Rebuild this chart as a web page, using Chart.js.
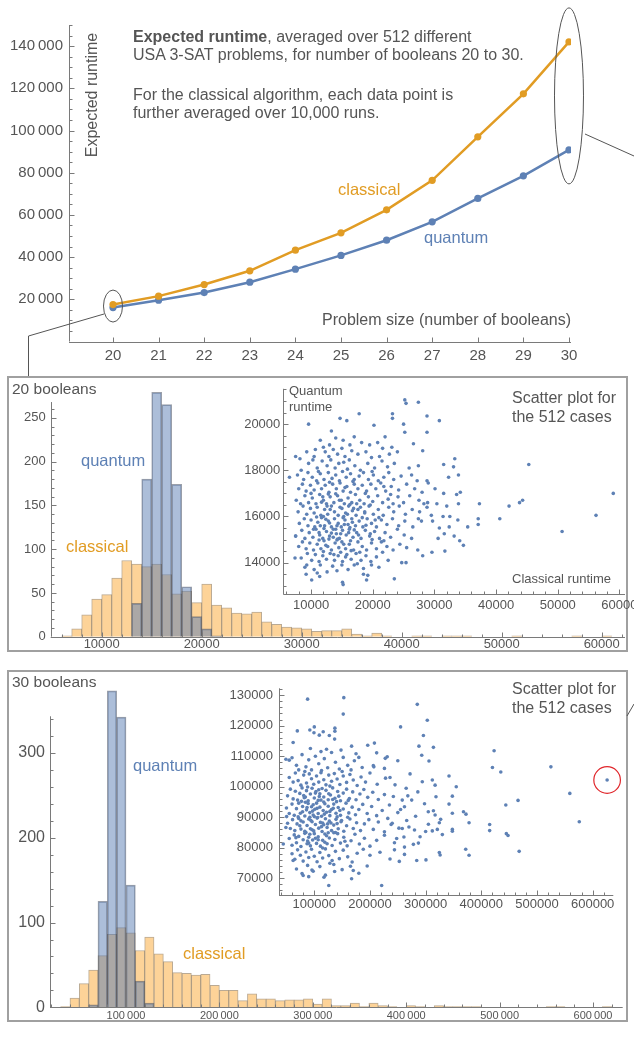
<!DOCTYPE html>
<html>
<head>
<meta charset="utf-8">
<title>Expected runtime</title>
<script src="https://cdn.jsdelivr.net/npm/chart.js@4.4.1/dist/chart.umd.min.js"></script>
<style>
  html, body { margin: 0; padding: 0; background: #fff; }
  body { position: relative; width: 634px; height: 1041px; overflow: hidden;
         font-family: "Liberation Sans", Arial, sans-serif; color: #555; }
  canvas, .txt, .box, svg { position: absolute; }
  .txt { white-space: nowrap; }
  .box { border: 2px solid #a0a0a0; box-sizing: border-box; }
  .blue { color: #5e81b5; }
  .orange { color: #e19c24; }
</style>
</head>
<body>
<div class="box" style="left:7px;top:376px;width:621px;height:276px"></div>
<div class="box" style="left:7px;top:670px;width:621px;height:352px"></div>

<canvas id="runtimeChart" width="634" height="380" style="left:0;top:0"></canvas>
<canvas id="hist20" width="617" height="278" style="left:9px;top:377px"></canvas>
<canvas id="scatter20" width="413" height="240" style="left:232px;top:378px"></canvas>
<canvas id="hist30" width="617" height="350" style="left:9px;top:672px"></canvas>
<canvas id="scatter30" width="410" height="245" style="left:216px;top:672px"></canvas>

<!-- top chart texts -->
<div class="txt" style="left:133px;top:28px;font-size:16px;line-height:18px"><b>Expected runtime</b>, averaged over 512 different<br>USA 3-SAT problems, for number of booleans 20 to 30.</div>
<div class="txt" style="left:133px;top:86px;font-size:16px;line-height:18px">For the classical algorithm, each data point is<br>further averaged over 10,000 runs.</div>
<div class="txt" style="left:22px;top:86px;width:140px;height:18px;line-height:18px;font-size:16px;text-align:center;transform:rotate(-90deg)">Expected runtime</div>
<div class="txt orange" style="left:338px;top:180px;font-size:16.5px;line-height:19px">classical</div>
<div class="txt blue" style="left:424px;top:228px;font-size:16.5px;line-height:19px">quantum</div>
<div class="txt" style="left:322px;top:311px;font-size:16px;line-height:18px">Problem size (number of booleans)</div>

<!-- panel 20 texts -->
<div class="txt" style="left:12px;top:380px;font-size:15.5px;line-height:18px">20 booleans</div>
<div class="txt blue" style="left:81px;top:451px;font-size:16.5px;line-height:19px">quantum</div>
<div class="txt orange" style="left:66px;top:537px;font-size:16.5px;line-height:19px">classical</div>
<div class="txt" style="left:289px;top:383px;font-size:13px;line-height:15.7px">Quantum<br>runtime</div>
<div class="txt" style="left:512px;top:388px;font-size:16px;line-height:19px">Scatter plot for<br>the 512 cases</div>
<div class="txt" style="left:512px;top:571px;font-size:13px;line-height:15px">Classical runtime</div>

<!-- panel 30 texts -->
<div class="txt" style="left:12px;top:673px;font-size:15.5px;line-height:18px">30 booleans</div>
<div class="txt blue" style="left:133px;top:756px;font-size:16.5px;line-height:19px">quantum</div>
<div class="txt orange" style="left:183px;top:944px;font-size:16.5px;line-height:19px">classical</div>
<div class="txt" style="left:512px;top:680px;font-size:16px;line-height:18.7px">Scatter plot for<br>the 512 cases</div>

<svg width="634" height="1041" style="left:0;top:0" stroke="#555" stroke-width="1" fill="none">
  <polyline points="104,314 28.5,336 28.5,376"/>
  <line x1="585" y1="134" x2="634" y2="156"/>
  <line x1="627" y1="716" x2="634" y2="704"/>
</svg>

<script>
// ---- line chart: averaged runtimes ----
const problemSizes = [20, 21, 22, 23, 24, 25, 26, 27, 28, 29, 30];
const classicalRuntime = [17500, 21500, 27000, 33500, 43300, 51500, 62400, 76400, 97000, 117400, 142000];
const quantumRuntime = [16100, 19600, 23200, 28100, 34300, 40800, 48000, 56700, 67800, 78500, 90800];

// ---- histograms: counts per bin, first bin starts at *Start ----
const hist20BinWidth = 1000;
const hist20ClassicalStart = 6000;
const hist20Classical = [1, 9, 25, 43, 48, 67, 87, 83, 80, 83, 71, 49, 52, 39, 60, 36, 33, 27, 26, 28,
  17, 14, 11, 10, 9, 6, 7, 7, 9, 3, 1, 4, 1, 0, 0, 1, 1, 0, 1, 1, 1, 0, 0, 0, 0, 1, 0, 0, 0, 0, 0, 1, 0, 0, 1];
const hist20QuantumStart = 13000;
const hist20Quantum = [38, 180, 279, 265, 174, 57, 23, 9, 1];

const hist30BinWidth = 10000;
const hist30ClassicalStart = 30000;
const hist30Classical = [1, 11, 28, 44, 61, 86, 94, 88, 67, 83, 63, 54, 41, 40, 38, 39, 26, 20, 20, 8,
  16, 10, 10, 8, 9, 9, 10, 4, 10, 2, 2, 5, 1, 5, 2, 1, 0, 2, 1, 0, 2, 1, 1, 1, 1, 0, 0, 0, 0, 0, 0, 0, 1, 1, 0, 0, 0, 0, 1];
const hist30QuantumStart = 60000;
const hist30Quantum = [3, 125, 373, 342, 144, 31, 5];

// ---- scatter: [classical, quantum] runtimes in thousands ----
const scatter20 = [
  [12.0,19.0],[13.3,19.7],[14.0,19.4],[15.2,19.3],[16.3,19.1],[17.0,19.45],[18.2,19.2],[19.5,19.1],[20.8,19.2],[22.0,19.45],
  [23.1,19.0],[13.0,19.1],[11.5,19.3],[9.3,18.8],[10.7,18.9],
  [10.5,18.6],[12.3,18.8],[12.9,18.6],[13.6,18.9],[14.3,18.7],[15.0,18.95],[15.5,18.6],[16.6,18.85],[17.6,18.7],[18.9,18.8],
  [19.8,18.55],[21.1,18.6],[21.6,18.95],[22.7,18.7],[8.2,18.5],[24.0,18.8],
  [9.6,18.3],[11.0,18.1],[11.8,18.4],[12.6,18.2],[13.2,18.45],[13.9,18.1],[14.5,18.3],[15.3,18.35],[15.9,18.05],[16.2,18.45],
  [17.1,18.2],[18.0,18.0],[19.2,18.3],[20.3,18.1],[21.5,18.4],[22.4,18.15],[23.5,18.3],[25.9,18.1],[8.4,18.0],[10.3,18.45],
  [7.8,17.8],[8.8,17.6],[9.5,17.9],[10.2,17.7],[10.9,17.55],[11.5,17.85],[12.1,17.6],[12.8,17.9],[13.4,17.65],[14.0,17.8],
  [14.6,17.55],[15.1,17.95],[15.7,17.7],[16.4,17.85],[17.0,17.6],[17.8,17.75],[18.5,17.9],[19.3,17.6],[20.1,17.8],[20.9,17.55],
  [21.8,17.7],[22.6,17.9],[23.4,17.6],[24.6,17.75],[26.3,17.8],[27.2,17.55],[11.2,17.95],[16.8,17.52],[19.9,17.95],
  [8.0,17.2],[8.6,17.4],[9.2,17.1],[9.9,17.35],[10.5,17.15],[11.1,17.45],[11.7,17.2],[12.3,17.35],[12.9,17.05],[13.5,17.4],
  [14.1,17.2],[14.7,17.45],[15.2,17.1],[15.8,17.3],[16.4,17.05],[17.0,17.4],[17.6,17.2],[18.3,17.35],[19.0,17.1],[19.7,17.4],
  [20.5,17.2],[21.3,17.45],[22.1,17.1],[23.0,17.3],[24.2,17.15],[25.5,17.4],[26.8,17.2],[28.0,17.05],[29.0,17.45],[13.0,17.48],
  [15.5,17.25],[18.8,17.0],[21.8,17.3],[10.0,17.0],
  [7.6,16.7],[8.3,16.55],[9.0,16.9],[9.6,16.6],[10.2,16.8],[10.8,16.55],[11.4,16.95],[12.0,16.7],[12.5,16.55],[13.1,16.85],
  [13.7,16.6],[14.3,16.9],[14.9,16.7],[15.4,16.55],[16.0,16.8],[16.6,16.6],[17.2,16.95],[17.9,16.7],[18.6,16.55],[19.3,16.85],
  [20.0,16.65],[20.8,16.9],[21.6,16.6],[22.5,16.75],[23.3,16.55],[24.1,16.85],[25.0,16.6],[26.0,16.9],[27.5,16.7],[28.3,16.55],
  [11.7,16.62],[14.0,16.98],[16.3,16.52],[19.6,16.5],[22.9,16.95],[12.8,16.97],
  [7.9,16.2],[8.7,16.45],[9.3,16.1],[9.9,16.35],[10.5,16.15],[11.0,16.4],[11.6,16.05],[12.2,16.3],[12.7,16.1],[13.3,16.45],
  [13.8,16.2],[14.4,16.05],[15.0,16.35],[15.6,16.15],[16.1,16.45],[16.7,16.25],[17.3,16.05],[18.0,16.4],[18.7,16.2],[19.4,16.45],
  [20.1,16.1],[20.9,16.3],[21.7,16.05],[22.6,16.4],[23.4,16.2],[24.3,16.45],[25.3,16.1],[26.4,16.3],[27.6,16.2],[28.8,16.4],
  [29.5,16.05],[14.7,16.4],[17.6,16.3],[12.0,16.0],[15.3,16.0],
  [8.1,15.7],[8.9,15.9],[9.5,15.6],[10.0,15.85],[10.6,15.55],[11.1,15.75],[11.7,15.95],[12.2,15.6],[12.8,15.8],[13.3,15.55],
  [13.8,15.9],[14.4,15.7],[14.9,15.55],[15.5,15.85],[16.0,15.65],[16.6,15.9],[17.2,15.6],[17.8,15.8],[18.4,15.55],[19.1,15.9],
  [19.8,15.7],[20.6,15.55],[21.4,15.85],[22.3,15.65],[23.2,15.9],[24.2,15.6],[25.2,15.8],[26.5,15.55],[27.4,15.9],[10.9,15.98],
  [13.0,15.72],[15.2,15.95],[16.3,15.52],[18.9,15.62],[21.0,15.95],[12.4,15.88],
  [7.5,15.15],[8.5,15.4],[9.0,15.05],[9.7,15.3],[10.3,15.1],[10.8,15.45],[11.4,15.2],[11.9,15.05],[12.5,15.35],[13.0,15.15],
  [13.6,15.45],[14.1,15.25],[14.6,15.05],[15.1,15.4],[15.7,15.2],[16.2,15.45],[16.8,15.1],[17.4,15.3],[18.1,15.05],[18.8,15.4],
  [19.5,15.15],[20.3,15.35],[21.1,15.05],[22.0,15.3],[22.9,15.1],[24.0,15.45],[25.1,15.2],[26.3,15.05],[12.1,15.48],[14.3,15.02],
  [17.0,15.42],[19.9,15.0],[13.3,15.28],
  [8.0,14.7],[8.6,14.9],[9.2,14.6],[9.8,14.85],[10.4,14.55],[11.0,14.8],[11.6,14.6],[12.1,14.95],[12.7,14.7],[13.3,14.55],
  [13.9,14.85],[14.5,14.65],[15.0,14.9],[15.6,14.6],[16.2,14.8],[16.9,14.55],[17.6,14.9],[18.3,14.7],[19.0,14.55],[19.8,14.85],
  [20.6,14.6],[21.4,14.9],[22.3,14.7],[23.3,14.55],[24.4,14.8],[11.3,14.98],[14.2,14.98],[16.5,14.52],
  [8.4,14.2],[9.4,14.4],[10.1,14.1],[10.7,14.35],[11.3,14.05],[11.9,14.3],[12.5,14.15],[13.1,14.4],[13.8,14.1],[14.4,14.3],
  [15.1,14.05],[15.8,14.35],[16.5,14.15],[17.3,14.4],[18.1,14.1],[18.9,14.3],[19.7,14.05],[20.6,14.25],[21.6,14.45],[22.5,14.1],
  [12.0,14.48],[14.8,14.45],
  [9.0,13.8],[10.5,13.7],[11.5,13.9],[12.6,13.6],[13.5,13.85],[14.2,13.65],[15.0,13.9],[16.0,13.7],[17.5,13.95],[18.5,13.75],
  [19.8,13.9],[21.0,13.8],[11.0,13.55],
  [11.3,15.3],[12.4,14.75],[13.6,15.1],[14.2,15.6],[15.3,14.8],[16.1,15.3],[16.7,15.75],[17.7,15.2],[13.1,16.3],[14.6,16.7],
  [15.9,16.1],[17.4,16.55],[12.6,16.45],[11.5,15.6],[14.0,15.45],[15.4,15.65],[16.9,16.35],[18.3,15.95],[13.7,14.35],[15.6,14.25],
  [12.9,15.02],[14.8,15.25],[16.4,14.95],[17.9,14.45],[18.7,16.15],[19.6,15.25],[20.4,15.85],[21.8,14.95],[10.4,15.45],[11.9,16.85],
  [6.5,17.7],[7.5,18.6],[9.6,20.0],[14.7,20.25],[15.8,20.15],[17.8,20.45],[20.2,19.95],[23.2,20.45],[23.2,20.25],[25.2,21.05],
  [25.4,20.9],[27.4,20.95],[25.0,20.0],[25.2,19.65],[28.8,20.35],[28.8,19.65],[30.8,20.15],[26.6,19.15],[28.1,18.85],[33.3,18.5],
  [31.5,18.25],[33.1,18.15],[27.4,18.2],[28.8,17.55],[32.3,17.7],[33.9,17.8],[34.2,17.05],[31.5,17.0],[33.6,16.95],[30.1,17.2],
  [30.4,16.55],[28.9,16.6],[32.0,16.45],[33.9,16.55],[37.3,16.55],[37.1,15.9],[37.1,15.65],[40.6,15.9],[42.1,16.45],[43.8,16.6],
  [44.3,16.7],[45.3,18.25],[56.2,16.05],[50.7,15.35],[59.0,17.0],[35.4,15.55],[34.7,14.75],[34.1,14.95],[33.2,15.15],[31.7,14.5],
  [29.6,14.45],[28.1,14.3],[27.3,14.55],[25.4,14.0],[24.7,14.0],[23.5,13.3],[25.5,14.65],[29.7,15.8],[31.4,16.0],[32.5,16.0],
  [33.8,15.85],[30.8,15.5],[32.4,15.55],[30.6,15.05],[31.6,15.25],[27.9,15.8],[7.4,14.2],[7.5,15.15],[9.3,13.9],[9.2,13.5],
  [10.1,13.25],[11.4,13.4],[15.1,13.15],[15.2,13.05],[18.5,13.5],[19.0,13.25],[19.2,13.45],[17.0,13.9]
];

const scatter30 = [
  [60,109.5],[68,107],[72,105.5],[78,110.5],[85,106.5],[90,108.8],[95,105.5],[102,110],[108,107.5],[113,105.3],
  [118,109.2],[124,106.2],[131,111.2],[138,108],[145,105.8],[152,109.6],[160,107],[166,105.5],[172,108.5],[180,109.6],
  [186,106.3],[175,110.8],[148,112],[122,112.3],[93,112.5],[112,111.5],
  [55,103],[62,101.5],[66,104.5],[71,102],[76,100.5],[81,103.8],[86,101.2],[91,104.2],[95,102.6],[99,100.8],
  [104,103.5],[108,101.5],[112,104.6],[117,102.3],[121,100.6],[126,103.8],[131,101.8],[136,104.3],[141,102.5],[146,100.7],
  [152,103.5],[158,101.4],[164,104],[170,102.2],[177,100.4],[184,103.2],[192,101.5],[200,104.5],[213,100.8],[228,102.8],
  [245,100.6],[83,105],[128,100.2],[150,105],
  [52,97],[57,99.2],[62,96],[66,98.5],[70,95.6],[74,97.8],[78,99.6],[82,96.4],[86,98.7],[89,95.4],
  [93,97.6],[96,99.5],[100,96.3],[103,98.4],[107,95.5],[110,97.7],[114,99.4],[117,96.6],[121,98.8],[125,95.7],
  [129,97.3],[133,99.6],[137,96.2],[142,98.4],[147,95.4],[152,97.9],[158,99.2],[163,96.1],[169,98.3],[175,95.7],
  [182,97.6],[189,99.1],[196,96.5],[205,98.2],[215,95.8],[226,97.4],[242,96.8],[258,95.6],[268,97],[88,99.9],
  [108,99],[140,95.1],[77,95.2],
  [50,93],[55,91.2],[60,94.3],[64,90.6],[68,92.8],[72,94.6],[75,91.3],[79,93.5],[83,90.4],[86,92.4],
  [89,94.5],[92,91.5],[95,93.4],[98,90.7],[101,92.6],[104,94.6],[107,91.2],[110,93.3],[113,90.3],[116,92.2],
  [119,94.4],[122,91.6],[125,93.6],[128,90.5],[131,92.5],[135,94.3],[139,91.3],[143,93.2],[147,90.6],[152,92.7],
  [157,94.6],[162,91.4],[168,93.3],[174,90.8],[180,92.5],[187,94.2],[195,91.2],[203,93.5],[212,90.5],[222,92.2],
  [235,94],[250,91.5],[262,93.4],[84,94.9],[117,95],[141,90.1],[97,92],
  [52,88],[57,86.3],[61,89.2],[65,85.6],[69,87.8],[72,89.6],[76,86.1],[80,88.4],[83,85.4],[87,87.3],
  [90,89.4],[93,86.2],[96,88.5],[99,85.5],[102,87.6],[105,89.7],[108,86.4],[111,88.3],[114,85.3],[117,87.5],
  [120,89.5],[123,86.6],[127,88.7],[131,85.6],[135,87.4],[139,89.3],[143,86.2],[148,88.5],[153,85.4],[158,87.2],
  [164,89.4],[170,86.3],[176,88.2],[183,85.6],[190,87.8],[198,89.2],[206,86],[215,88.4],[226,85.2],[238,87.6],
  [252,86.4],[266,88.9],[280,85.8],[92,90],[125,84.9],[160,90],
  [55,83],[60,80.8],[64,84.2],[68,81.6],[72,83.7],[76,80.4],[80,82.6],[83,84.7],[87,81.3],[90,83.4],
  [93,80.6],[97,82.5],[100,84.6],[104,81.4],[107,83.6],[111,80.5],[115,82.4],[119,84.5],[123,81.3],[127,83.2],
  [132,80.7],[137,82.7],[142,84.6],[147,81.5],[153,83.4],[159,80.6],[166,82.3],[173,84.4],[181,81.2],[190,83.1],
  [200,80.5],[212,82.4],[226,84.1],[244,81.6],[261,83.5],[115,79.9],[85,85],[135,84.9],
  [60,78],[65,76.2],[70,79.3],[75,77.5],[80,75.6],[85,78.6],[90,76.8],[95,79.5],[100,77.2],[105,75.4],
  [110,78.4],[115,76.6],[120,79.6],[126,77.4],[132,75.8],[138,78.8],[145,76.4],[152,79.2],[160,77],[168,75.3],
  [177,78.2],[188,79.5],[200,77.5],[218,78.5],[236,76.3],[128,74.9],
  [68,73],[78,71.5],[88,74.2],[98,72.3],[110,73.8],[120,71],[135,74.5],[150,72.8],[165,73.9],[180,71.6],
  [195,74],[90,70.5],
  [74,87.2],[79,91.8],[84,96.6],[88,82.2],[94,88.9],[98,94.1],[102,83.1],[106,89.9],[109,96.8],[113,86.9],
  [118,91],[122,83.9],[126,97.7],[130,88.1],[134,92.9],[138,85],[144,96.9],[149,88.9],[155,82.1],[161,95.5],
  [71,90.1],[67,83.3],[81,97.1],[92,84.4],[105,92.9],[119,81.8],[133,95.8],[146,92.2],[102,97.9],[87,93.2],
  [96,85.9],[112,95.6],[128,91.9],[76,88.8],[124,87.8],[141,87.9],[90,81.5],[100,90.2],[115,88.1],[107,82.6],
  [240,88],[248,83],[255,92.5],[262,80.2],[270,86.8],[275,95.6],[282,90.3],[290,83.6],[298,94.4],[265,99.5],
  [232,89.6],[244,79.3],[278,81.1],[258,86.3],[286,98.3],[226,106],[236,103],[250,108.5],[272,104.2],[262,77.8],
  [88,128.7],[153,129.2],[152,123.8],[285,127],[303,121.8],[255,119.6],[296,116.8],[69.5,118.3],[62,114.5],[92,118.6],
  [100,119.6],[99.4,117.7],[109,116.9],[116,118],[127,116.8],[137,119.2],[137,118.2],[136.5,115.6],[167,113.3],[196,113.6],
  [208,114.3],[288,113.3],[314,112.9],[423,111.8],[212,111.1],[231,109.8],[293,110.3],[306,108.4],[227.5,109.3],[206,106.9],
  [207,106.5],[420,106.3],[435,104.8],[525,106.5],[559,97.8],[576,88.5],[466,95.5],[444,94],[468,78.8],[445,84.6],
  [448,84],[415,87.6],[415,85.6],[342,103.5],[355,100],[348,96.9],[342,94.3],[348,91.3],[368,91.8],[372.5,91],
  [378,88.2],[348,86],[348,85.4],[372,79.5],[378,77.5],[324.6,78.4],[326,77.6],[321,86],[330,84.3],[324.6,88.2],
  [327,89.3],[317,90.7],[314,92.1],[318.6,96.7],[312,102.2],[294,101.6],[317,100.5],[304.8,91.8],[305,87.7],[312,85.5],
  [300,85.3],[287,81.5],[284,75.8],[300.6,76],[252.7,75.5],[221,67.6],[126,67.6],[167,69.8],[170,72.5],[117.4,70.3],
  [136.5,72.2],[95.8,72.7],[80,70.9],[62,75.8],[44.3,81.2],[49,86.6],[50.3,90.2],[49,109],[55,108.7]
];
// the case circled in red
const highlightCase30 = [626, 102.2];

const BLUE = '#5e81b5';
const ORANGE = '#e19c24';
const AXIS = '#7a7a7a';

Chart.defaults.font.family = '"Liberation Sans", Arial, sans-serif';
Chart.defaults.color = '#555';
Chart.defaults.animation = false;
Chart.defaults.plugins.legend.display = false;
Chart.defaults.plugins.tooltip.enabled = false;

const withSpaces = v => String(v).replace(/\B(?=(\d{3})+(?!\d))/g, '\u2009');
const plain = v => String(v);

function tickValues(min, max, step) {
  const out = [];
  for (let k = Math.ceil(min / step - 1e-9); k * step <= max + 1e-9; k++) {
    out.push(Math.round(k * step * 1e6) / 1e6);
  }
  return out;
}

// Mathematica looking axes: plain lines with ticks pointing inwards
const mathAxes = {
  id: 'mathAxes',
  afterDatasetsDraw(chart, args, opts) {
    const { ctx, chartArea: area, scales: { x, y } } = chart;
    const bx = Math.round(area.left) + 0.5;
    const by = Math.round(area.bottom) + 0.5;
    const yTop = opts.yTop === undefined ? y.max : opts.yTop;
    const marks = (scale, minor, major, top) => tickValues(scale.min, top, minor)
      .map(v => [scale.getPixelForValue(v), Math.abs(v / major - Math.round(v / major)) < 1e-9]);
    ctx.save();
    ctx.strokeStyle = AXIS;
    ctx.lineWidth = 1;
    ctx.beginPath();
    ctx.moveTo(area.left, by);
    ctx.lineTo(area.right, by);
    ctx.moveTo(bx, area.bottom);
    ctx.lineTo(bx, y.getPixelForValue(yTop));
    for (const [px, big] of marks(x, opts.xMinor, opts.xMajor, x.max)) {
      const p = Math.round(px) + 0.5;
      ctx.moveTo(p, by);
      ctx.lineTo(p, by - (big ? 5 : 3));
    }
    for (const [py, big] of marks(y, opts.yMinor, opts.yMajor, yTop)) {
      const p = Math.round(py) + 0.5;
      ctx.moveTo(bx, p);
      ctx.lineTo(bx + (big ? 5 : 3), p);
    }
    ctx.stroke();
    ctx.restore();
  }
};

// ellipses around the 20 and 30 boolean points of the line chart
const focusEllipses = {
  id: 'focusEllipses',
  afterDatasetsDraw(chart) {
    const { ctx, scales: { x, y } } = chart;
    const marks = [{ n: 20, rx: 9.5, ry: 16 }, { n: 30, rx: 14.5, ry: 88 }];
    ctx.save();
    ctx.strokeStyle = '#555';
    ctx.lineWidth = 1;
    marks.forEach(m => {
      const i = problemSizes.indexOf(m.n);
      const cy = y.getPixelForValue((classicalRuntime[i] + quantumRuntime[i]) / 2);
      ctx.beginPath();
      ctx.ellipse(x.getPixelForValue(m.n), cy, m.rx, m.ry, 0, 0, Math.PI * 2);
      ctx.stroke();
    });
    ctx.restore();
  }
};

// red circle round the largest classical case
const circleCase = {
  id: 'circleCase',
  afterDatasetsDraw(chart) {
    const { ctx, scales: { x, y } } = chart;
    ctx.save();
    ctx.strokeStyle = '#e0262b';
    ctx.lineWidth = 1.2;
    ctx.beginPath();
    ctx.arc(x.getPixelForValue(highlightCase30[0] * 1000), y.getPixelForValue(highlightCase30[1] * 1000), 13.3, 0, Math.PI * 2);
    ctx.stroke();
    ctx.restore();
  }
};

function linAxis(min, max, step, o) {
  return {
    type: 'linear', min, max, offset: false,
    grid: { display: false, drawTicks: false },
    border: { display: false },
    afterFit: o.fit,
    afterBuildTicks: s => { s.ticks = tickValues(min, max, step).map(value => ({ value })); },
    ticks: {
      autoSkip: false, maxRotation: 0,
      padding: o.pad, font: { size: o.size }, color: '#555',
      callback: v => (o.hideZero && v === 0) ? '' : o.fmt(v)
    }
  };
}

function binBars(start, width, counts) {
  return counts
    .map((c, i) => ({ x: start + i * width + width / 2, y: c }))
    .filter(p => p.y > 0);
}

function toPoints(pairs) {
  return pairs.map(([c, q]) => ({ x: c * 1000, y: q * 1000 }));
}

const barStyle = {
  quantum: { backgroundColor: 'rgba(90,125,180,0.5)', borderColor: 'rgba(55,65,85,0.5)', order: 0 },
  classical: { backgroundColor: '#fdd398', borderColor: 'rgba(130,100,60,0.55)', order: 1 }
};

function histDataset(points, style) {
  return Object.assign({
    data: points, borderWidth: 1, grouped: false,
    barPercentage: 1, categoryPercentage: 1
  }, style);
}

// ---- top chart ----
new Chart(document.getElementById('runtimeChart'), {
  type: 'line',
  data: {
    datasets: [
      { data: problemSizes.map((n, i) => ({ x: n, y: classicalRuntime[i] })), borderColor: ORANGE,
        backgroundColor: ORANGE, borderWidth: 2.5, pointRadius: 3.6, pointBorderWidth: 0, tension: 0 },
      { data: problemSizes.map((n, i) => ({ x: n, y: quantumRuntime[i] })), borderColor: BLUE,
        backgroundColor: BLUE, borderWidth: 2.5, pointRadius: 3.6, pointBorderWidth: 0, tension: 0 }
    ]
  },
  options: {
    responsive: false,
    layout: { padding: { left: 0, top: 25, right: 63, bottom: 0 } },
    scales: {
      x: linAxis(19.035, 30.044, 1, { size: 15, pad: 5, fmt: plain, fit: s => { s.height = 38.5; } }),
      y: linAxis(0, 150000, 20000, { size: 15, pad: 6, fmt: withSpaces, hideZero: true, fit: s => { s.width = 69; } })
    },
    plugins: { mathAxes: { xMinor: 1, xMajor: 1, yMinor: 5000, yMajor: 20000 } }
  },
  plugins: [mathAxes, focusEllipses]
});

// ---- 20 booleans histogram ----
new Chart(document.getElementById('hist20'), {
  type: 'bar',
  data: {
    datasets: [
      histDataset(binBars(hist20QuantumStart, hist20BinWidth, hist20Quantum), barStyle.quantum),
      histDataset(binBars(hist20ClassicalStart, hist20BinWidth, hist20Classical), barStyle.classical)
    ]
  },
  options: {
    responsive: false,
    layout: { padding: { left: 0, top: 10.4, right: 1, bottom: 0 } },
    scales: {
      x: linAxis(4900, 62330, 10000, { size: 13, pad: 0, fmt: plain, fit: s => { s.height = 18.3; } }),
      y: linAxis(0, 282, 50, { size: 13, pad: 5, fmt: plain, fit: s => { s.width = 41.7; } })
    },
    plugins: { mathAxes: { xMinor: 2000, xMajor: 10000, yMinor: 10, yMajor: 50, yTop: 268 } }
  },
  plugins: [mathAxes]
});

// ---- 20 booleans scatter ----
new Chart(document.getElementById('scatter20'), {
  type: 'scatter',
  data: { datasets: [{ data: toPoints(scatter20), backgroundColor: BLUE, pointRadius: 1.8, pointBorderWidth: 0 }] },
  options: {
    responsive: false,
    layout: { padding: { left: 0, top: 8.7, right: 20, bottom: 0 } },
    scales: {
      x: linAxis(5500, 60900, 10000, { size: 13, pad: 3, fmt: plain, fit: s => { s.height = 23.7; } }),
      y: linAxis(12630, 21530, 2000, { size: 13, pad: 3, fmt: plain, fit: s => { s.width = 51.3; } })
    },
    plugins: { mathAxes: { xMinor: 2000, xMajor: 10000, yMinor: 500, yMajor: 2000 } }
  },
  plugins: [mathAxes]
});

// ---- 30 booleans histogram ----
new Chart(document.getElementById('hist30'), {
  type: 'bar',
  data: {
    datasets: [
      histDataset(binBars(hist30QuantumStart, hist30BinWidth, hist30Quantum), barStyle.quantum),
      histDataset(binBars(hist30ClassicalStart, hist30BinWidth, hist30Classical), barStyle.classical)
    ]
  },
  options: {
    responsive: false,
    layout: { padding: { left: 0, top: 2.3, right: 3.3, bottom: 0 } },
    scales: {
      x: linAxis(18630, 631800, 100000, { size: 11, pad: 2, fmt: withSpaces, fit: s => { s.height = 14.3; } }),
      y: linAxis(0, 378, 100, { size: 16, pad: 5, fmt: plain, fit: s => { s.width = 41; } })
    },
    plugins: { mathAxes: { xMinor: 20000, xMajor: 100000, yMinor: 20, yMajor: 100, yTop: 343 } }
  },
  plugins: [mathAxes]
});

// ---- 30 booleans scatter ----
new Chart(document.getElementById('scatter30'), {
  type: 'scatter',
  data: { datasets: [{ data: toPoints(scatter30.concat([highlightCase30])), backgroundColor: BLUE, pointRadius: 1.8, pointBorderWidth: 0 }] },
  options: {
    responsive: false,
    layout: { padding: { left: 0, top: 16.3, right: 12.7, bottom: 0 } },
    scales: {
      x: linAxis(36600, 637100, 100000, { size: 13, pad: 2, fmt: plain, fit: s => { s.height = 22; } }),
      y: linAxis(64490, 132260, 10000, { size: 13, pad: 6, fmt: plain, fit: s => { s.width = 63; } })
    },
    plugins: { mathAxes: { xMinor: 20000, xMajor: 100000, yMinor: 2000, yMajor: 10000 } }
  },
  plugins: [mathAxes, circleCase]
});
</script>
</body>
</html>
